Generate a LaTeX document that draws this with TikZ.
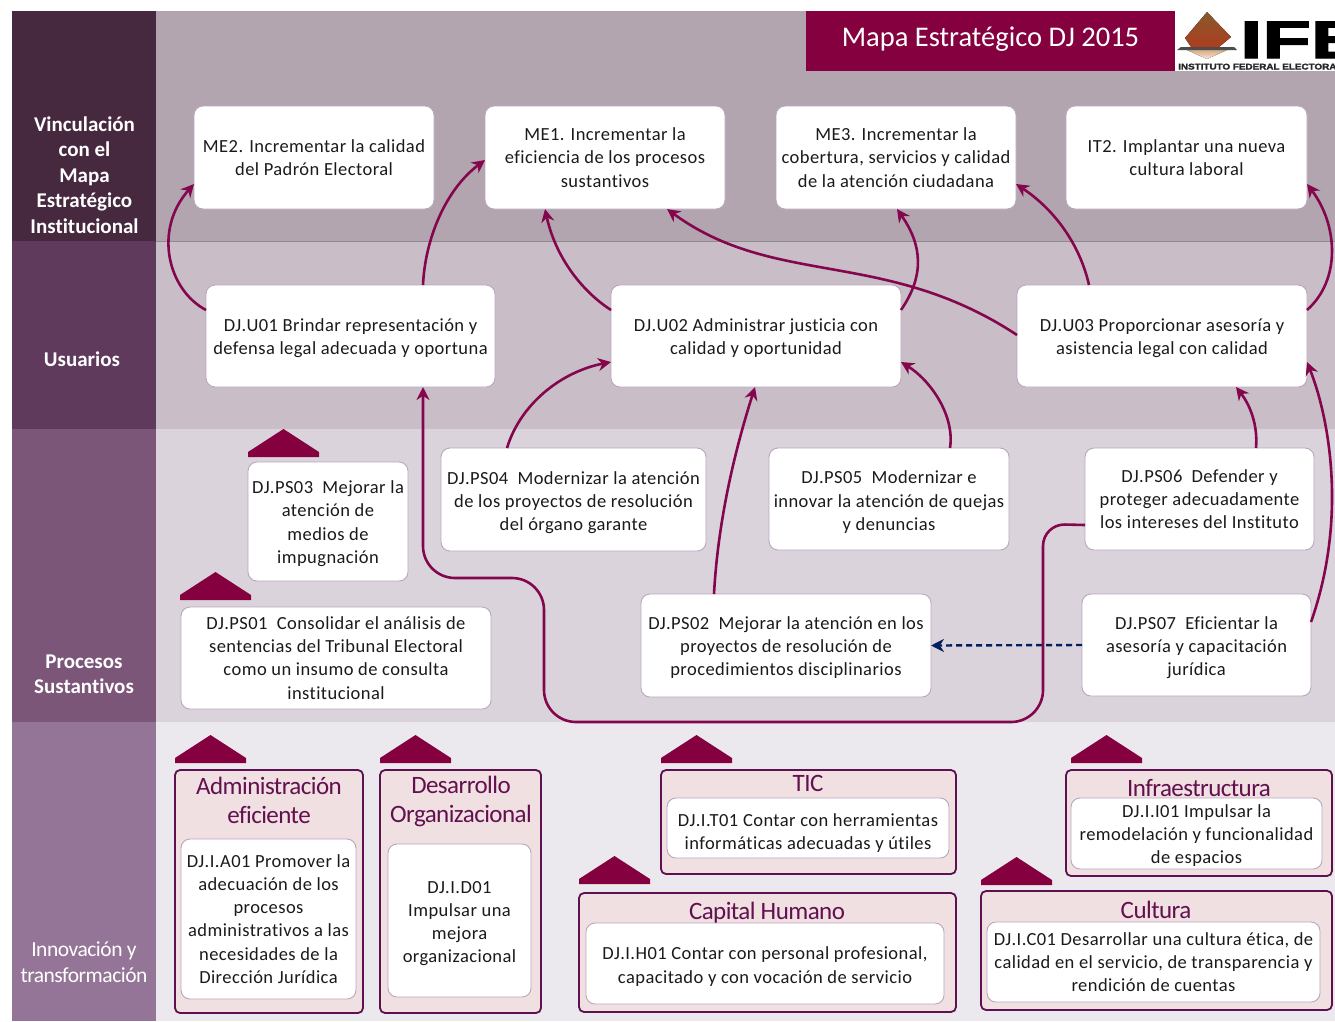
\documentclass[tikz,border=0pt]{standalone}
\usepackage{fontspec}
\setmainfont{Carlito}[Ligatures=NoCommon]
\newfontfamily\logofont{Liberation Sans}[BoldFeatures={FakeBold=2}]
\usetikzlibrary{arrows.meta}
\definecolor{bandA}{HTML}{B3A5B0}
\definecolor{bandB}{HTML}{C9BEC8}
\definecolor{bandC}{HTML}{DAD3DB}
\definecolor{bandD}{HTML}{ECE9EE}
\definecolor{sideA}{HTML}{46283F}
\definecolor{sideB}{HTML}{603A5D}
\definecolor{sideC}{HTML}{7B5679}
\definecolor{sideD}{HTML}{947597}
\definecolor{wine}{HTML}{84003F}
\definecolor{arrowwine}{HTML}{84064D}
\definecolor{navyline}{HTML}{002060}
\definecolor{boxline}{HTML}{B9A6BE}
\definecolor{groupfill}{HTML}{F0E0E1}
\definecolor{groupline}{HTML}{5E1150}
\definecolor{titletext}{HTML}{62104F}
\definecolor{txt}{HTML}{1A1A1A}
\tikzset{
  whitebox/.style={draw=boxline,fill=white,line width=0.9,rounded corners=9,inner sep=0,outer sep=0,align=center,text=txt,font=\fontsize{18.5}{23.2}\selectfont\addfontfeatures{LetterSpace=2.4},execute at begin node=\rule{0pt}{16pt}},
  groupbox/.style={draw=groupline,fill=groupfill,line width=1.8,rounded corners=5,inner sep=0,outer sep=0},
  grouptitle/.style={align=center,text=titletext,inner sep=0,font=\fontsize{25}{29}\selectfont\addfontfeatures{LetterSpace=-2.2}},
  sidelabel/.style={align=center,text=white,inner sep=0,font=\fontsize{21}{25.5}\selectfont\bfseries},
  sidelabelthin/.style={align=center,text=white,inner sep=0,font=\fontsize{21.5}{25.5}\selectfont\addfontfeatures{LetterSpace=-2.2}},
  link/.style={draw=arrowwine,line width=2.6,-{Stealth[length=13,width=13]}},
  dashlink/.style={draw=navyline,line width=2.4,dash pattern=on 6pt off 4pt,-{Stealth[length=13,width=13]}},
  roof/.style={fill=wine}
}
\newcommand{\bx}[7][whitebox]{%
  \pgfmathsetmacro{\bw}{#5-#3}\pgfmathsetmacro{\bh}{#6-#4}%
  \pgfmathsetmacro{\bcx}{(#3+#5)/2}\pgfmathsetmacro{\bcy}{(#4+#6)/2}%
  \node[#1,minimum width=\bw pt,minimum height=\bh pt] (#2) at (\bcx,\bcy) {#7};}
\newcommand{\roofmark}[2]{%
  \fill[roof] (#1,#2) -- ++(0,-5) -- ++(35.5,-23) -- ++(35.5,23) -- ++(0,5) -- cycle;}
\newcommand{\nudge}[1]{\rule{0pt}{#1pt}}
\begin{document}
\begin{tikzpicture}[x=1pt,y=-1pt]
\useasboundingbox (0,0) rectangle (1335,1021);
% bands
\fill[bandA] (156,11) rectangle (1335,241);
\fill[bandB] (156,241) rectangle (1335,429);
\fill[bandC] (156,429) rectangle (1335,722);
\fill[bandD] (156,722) rectangle (1335,1021);
\draw[line width=0.6,draw=black!45] (156,241) -- (1335,241);
\fill[sideA] (12,11) rectangle (156,241);
\fill[sideB] (12,241) rectangle (156,429);
\fill[sideC] (12,429) rectangle (156,722);
\fill[sideD] (12,722) rectangle (156,1021);
\node[sidelabel] (sv) at (84.5,175) {Vinculación\\con el\\Mapa\\Estratégico\\Institucional};
\node[sidelabel] (su) at (82,359) {Usuarios};
\node[sidelabel] (sp) at (84,674.5) {Procesos\\Sustantivos};
\node[sidelabelthin] (si) at (84,962) {Innovación y\\transformación};
% header
\fill[wine] (806,11) rectangle (1175,71);
\node[text=white,inner sep=0,font=\fontsize{28.5}{32}\selectfont] (title) at (990.5,39) {Mapa Estratégico DJ 2015};
% logo
\begin{scope}
\clip (1175,11) rectangle (1335,71);
\fill[white] (1175,11) rectangle (1335,71);
\fill[bottom color=red!12!white,top color=brown!65!white] (1187,50) -- (1227,50) -- (1207,59) -- cycle;
\fill[top color=brown!70!black,bottom color=brown!60!red!80!black] (1207,12) -- (1231,37) -- (1219,47) -- (1191,47) -- (1185,38) -- cycle;
\fill[black!70] (1181,47) -- (1234,47) -- (1237,50) -- (1177,50) -- cycle;
\node[anchor=base west,inner sep=0,text=black,font=\logofont\bfseries\fontsize{53}{53}\selectfont] (ifelogo) at (1240,58) {\scalebox{1.5}[1]{IFE}};
\node[anchor=base west,inner sep=0,text=black!85,font=\logofont\bfseries\fontsize{8.3}{9}\selectfont] (ifename) at (1178,69.5) {\scalebox{1.19}[1]{INSTITUTO FEDERAL ELECTORAL}};
\end{scope}
% top row
\bx{me2}{194}{106}{434}{209}{ME2. Incrementar la calidad\\del Padrón Electoral}
\bx{me1}{485}{106}{725}{209}{ME1. Incrementar la\\eficiencia de los procesos\\sustantivos}
\bx{me3}{776}{106}{1016}{209}{ME3. Incrementar la\\cobertura, servicios y calidad\\de la atención ciudadana}
\bx{it2}{1066}{106}{1307}{209}{IT2. Implantar una nueva\\cultura laboral}
% users
\bx{u01}{206}{285}{495}{387}{\nudge{17}DJ.U01 Brindar representación y\\defensa legal adecuada y oportuna}
\bx{u02}{611}{285}{901}{387}{\nudge{17}DJ.U02 Administrar justicia con\\calidad y oportunidad}
\bx{u03}{1017}{285}{1307}{387}{\nudge{17}DJ.U03 Proporcionar asesoría y\\asistencia legal con calidad}
% processes
\bx{ps03}{248}{462}{408}{581}{\nudge{17}DJ.PS03\ \ Mejorar la\\atención de\\medios de\\impugnación}
\bx{ps04}{441}{448}{706}{551}{\nudge{19}DJ.PS04\ \ Modernizar la atención\\de los proyectos de resolución\\del órgano garante}
\bx{ps05}{769}{448}{1009}{550}{\nudge{19}DJ.PS05\ \ Modernizar e\\innovar la atención de quejas\\y denuncias}
\bx{ps06}{1085}{448}{1314}{550}{DJ.PS06\ \ Defender y\\proteger adecuadamente\\los intereses del Instituto}
\bx{ps01}{181}{607}{491}{709}{DJ.PS01\ \ Consolidar el análisis de\\sentencias del Tribunal Electoral\\como un insumo de consulta\\institucional}
\bx{ps02}{641}{594}{931}{697}{\nudge{17.5}DJ.PS02\ \ Mejorar la atención en los\\proyectos de resolución de\\procedimientos disciplinarios}
\bx{ps07}{1082}{594}{1311}{696}{\nudge{18}DJ.PS07\ \ Eficientar la\\asesoría y capacitación\\jurídica}
% roofs
\roofmark{248}{457}
\roofmark{180}{600}
\roofmark{175}{763}
\roofmark{380}{763}
\roofmark{661}{763}
\roofmark{1071}{763}
\roofmark{579}{884}
\roofmark{981}{885}
% groups
\bx[groupbox]{gadm}{175}{770}{363}{1013}{}
\bx[groupbox]{gdes}{380}{770}{541}{1013}{}
\bx[groupbox]{gtic}{661}{770}{956}{874}{}
\bx[groupbox]{ginf}{1066}{770}{1332}{876}{}
\bx[groupbox]{gcap}{579}{893}{956}{1012}{}
\bx[groupbox]{gcul}{981}{891}{1332}{1010}{}
\node[grouptitle] (tadm) at (269,800.5) {Administración\\eficiente};
\node[grouptitle] (tdes) at (461,801.8) {Desarrollo\\Organizacional};
\node[grouptitle] (ttic) at (808,783) {TIC};
\node[grouptitle] (tinf) at (1199,788) {Infraestructura};
\node[grouptitle] (tcap) at (767,912.5) {Capital Humano};
\node[grouptitle] (tcul) at (1156,910) {Cultura};
\bx{a01}{181}{839}{356}{999}{DJ.I.A01 Promover la\\adecuación de los\\procesos\\administrativos a las\\necesidades de la\\Dirección Jurídica}
\bx{d01}{388}{844}{531}{997}{\nudge{18}DJ.I.D01\\Impulsar una\\mejora\\organizacional}
\bx{t01}{667}{798}{949}{858}{\nudge{23}DJ.I.T01 Contar con herramientas\\informáticas adecuadas y útiles}
\bx{i01}{1071}{798}{1322}{869}{\nudge{17}DJ.I.I01 Impulsar la\\remodelación y funcionalidad\\de espacios}
\bx{h01}{586}{923}{944}{1004}{\nudge{19}DJ.I.H01 Contar con personal profesional,\\capacitado y con vocación de servicio}
\bx{c01}{987}{922}{1320}{1002}{DJ.I.C01 Desarrollar una cultura ética, de\\calidad en el servicio, de transparencia y\\rendición de cuentas}
% connectors
\draw[link] ([yshift=-25pt]u01.north west) .. controls (168,290) and (153,230) .. ([yshift=-78pt]me2.north west);
\draw[link] ([xshift=217pt]u01.north west) .. controls (425,240) and (445,190) .. ([yshift=-54pt]me1.north west);
\draw[link] ([yshift=-25pt]u02.north west) .. controls (580,290) and (555,255) .. ([xshift=60pt]me1.south west);
\draw[link] ([yshift=-25pt]u02.north east) .. controls (925,275) and (922,245) .. ([xshift=121pt]me3.south west);
\draw[link] ([yshift=-50pt]u03.north west) .. controls (885,248) and (775,288) .. ([xshift=182pt]me1.south west);
\draw[link] ([xshift=72pt]u03.north west) .. controls (1080,245) and (1055,210) .. ([yshift=-78pt]me3.north east);
\draw[link] ([yshift=-25pt]u03.north east) .. controls (1341,280) and (1338,225) .. ([yshift=-78pt]it2.north east);
\draw[link] ([xshift=66pt]ps04.north west) .. controls (520,405) and (560,372) .. ([yshift=25pt]u02.south west);
\draw[link] ([xshift=73pt]ps02.north west) .. controls (718,520) and (735,450) .. ([xshift=144pt]u02.south west);
\draw[link] ([xshift=181pt]ps05.north west) .. controls (955,415) and (930,380) .. ([yshift=25pt]u02.south east);
\draw[link] ([xshift=171pt]ps06.north west) .. controls (1258,425) and (1250,405) .. ([xshift=219pt]u03.south west);
\draw[link] ([yshift=-28pt]ps07.north east) .. controls (1347,520) and (1330,420) .. ([yshift=25pt]u03.south east);
\draw[dashlink] (ps07.west) -- (ps02.east);
\draw[link,rounded corners=22pt] ([yshift=-26pt]ps06.west) -- (1043,524) [rounded corners=32pt] -- (1043,722) -- (544,722) -- (544,578) -- (423,578) -- ([xshift=217pt]u01.south west);
\end{tikzpicture}
\end{document}
